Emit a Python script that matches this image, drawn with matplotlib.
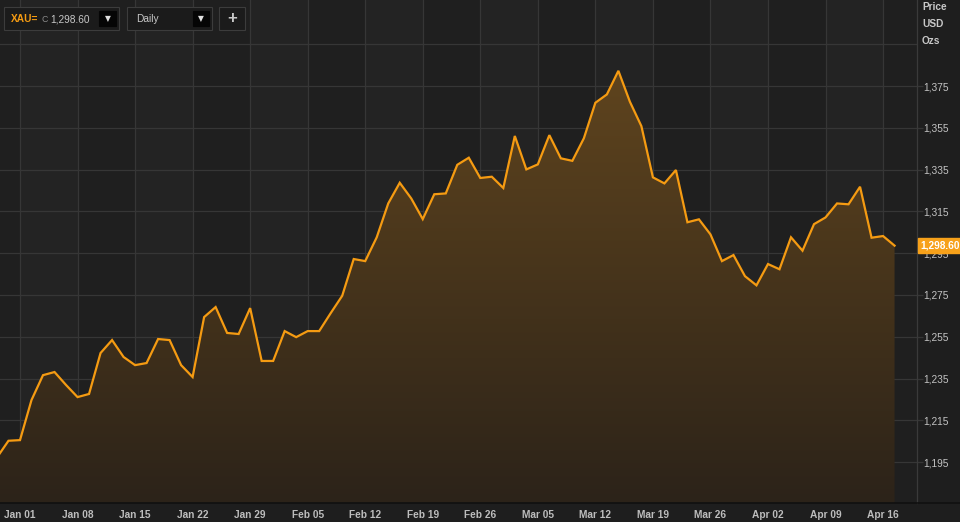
import numpy as np
import pandas as pd
import matplotlib
matplotlib.use("Agg")
import matplotlib.pyplot as plt
from matplotlib.patches import Rectangle

plt.rcParams['font.family'] = ['Liberation Sans', 'DejaVu Sans']

# ---- data ----
start_date = "2017-12-28"
end_date = "2018-04-17"
prices = [
    1197.2, 1205.2,
    1205.5, 1224.7, 1236.6, 1238.1, 1231.9,
    1226.1, 1227.6, 1247.2, 1253.4, 1245.3,
    1241.4, 1242.4, 1253.9, 1253.4, 1241.4,
    1235.7, 1264.4, 1269.2, 1256.8, 1256.3,
    1268.7, 1243.4, 1243.4, 1257.7, 1254.8,
    1257.7, 1257.7, 1266.3, 1274.6, 1292.2,
    1291.2, 1302.6, 1318.8, 1328.7, 1321.2,
    1311.3, 1323.2, 1323.6, 1337.3, 1340.7,
    1331.0, 1331.6, 1326.2, 1351.1, 1335.1,
    1337.5, 1351.5, 1340.4, 1339.2, 1350.0,
    1367.0, 1371.0, 1382.3, 1367.5, 1355.8,
    1331.3, 1328.4, 1334.8, 1309.8, 1311.2,
    1304.0, 1291.2, 1294.1, 1284.0, 1279.6,
    1289.8, 1287.3, 1302.6, 1296.2, 1308.9,
    1312.1, 1318.8, 1318.4, 1326.8, 1302.4,
    1303.2, 1298.6,
]
y_ticks = [1195, 1215, 1235, 1255, 1275, 1295, 1315, 1335, 1355, 1375]
y_grid = y_ticks + [1395]
last_label = "1,298.60"
header_labels = ["Price", "USD", "Ozs"]

dates = pd.bdate_range(start_date, end_date)
x = np.arange(len(dates))
y = np.array(prices)

W, H = 960, 522
fig = plt.figure(figsize=(W / 100, H / 100), dpi=100)
fig.patch.set_facecolor("#1e1e1e")

ax_l, ax_r, ax_b, ax_t = 0, 917, 503, 0
ax = fig.add_axes([ax_l / W, (H - ax_b) / H, (ax_r - ax_l) / W, (ax_b - ax_t) / H])
ax.set_facecolor("#1f1f1f")

xmin, xmax = 0.262, 79.95
ymin, ymax = 1175.4, 1416.2
ax.set_xlim(xmin, xmax)
ax.set_ylim(ymin, ymax)

# weekly ticks (Mondays)
mondays = [i for i, d in enumerate(dates) if d.weekday() == 0]
tick_labels = [dates[i].strftime("%b %d") for i in mondays]

# alternating column bands
edges = [xmin] + mondays + [xmax]
for k in range(len(edges) - 1):
    if k % 2 == 1:
        ax.axvspan(edges[k], edges[k + 1], color="#232323", zorder=0, lw=0)

# grid
for v in y_grid:
    ax.axhline(v, color="#363636", lw=0.9, zorder=1)
for m in mondays:
    ax.axvline(m, color="#363636", lw=0.9, zorder=1)

# gradient fill under line
grad = np.linspace(0, 1, 256).reshape(-1, 1)
top = np.array([0x62, 0x46, 0x1e]) / 255
bot = np.array([0x2c, 0x23, 0x19]) / 255
img = bot + (top - bot) * grad
img = np.repeat(img[:, None, :], 2, axis=1)
im = ax.imshow(img, extent=[xmin, xmax, ymin, 1395], origin="lower",
               aspect="auto", zorder=2, interpolation="bilinear")
poly = np.vstack([np.column_stack([x, y]), [[x[-1], ymin], [x[0], ymin]]])
clip = matplotlib.patches.Polygon(poly, closed=True, transform=ax.transData,
                                  facecolor="none", edgecolor="none")
ax.add_patch(clip)
im.set_clip_path(clip)

ax.plot(x, y, color="#f59b12", lw=1.6, zorder=4, solid_joinstyle="miter")

ax.set_xticks(mondays)
ax.set_xticklabels(tick_labels)
ax.tick_params(axis="x", length=0, pad=5, labelsize=7.3, labelcolor="#bdbdbd")
for t in ax.get_xticklabels():
    t.set_fontweight("bold")
ax.yaxis.tick_right()
ax.set_yticks(y_ticks)
ax.set_yticklabels([f"{v:,}" for v in y_ticks])
ax.tick_params(axis="y", length=4, width=0.9, color="#363636", pad=0.5,
               labelsize=7.3, labelcolor="#c4c4c4")
for s in ["top", "left", "bottom"]:
    ax.spines[s].set_visible(False)
ax.spines["right"].set_color("#3a3a3a")
ax.spines["right"].set_linewidth(0.9)

# bottom separator line
fig.add_artist(plt.Line2D([0, 1], [(H - 503) / H] * 2, color="#101010", lw=1.2,
                          transform=fig.transFigure))

# last price tag
yl = y[-1]
ax.annotate(last_label, xy=(1.0, yl), xycoords=("axes fraction", "data"),
            xytext=(2.5, 0), textcoords="offset points", ha="left", va="center",
            fontsize=7.3, fontweight="bold", color="white",
            bbox=dict(boxstyle="square,pad=0.28", fc="#f7a11a", ec="#f7a11a"),
            zorder=10, annotation_clip=False)

# header labels on the right
for k, lab in enumerate(header_labels):
    fig.text(922 / W, 1 - (7 + 17 * k) / H, lab, ha="left", va="center",
             fontsize=7.3, fontweight="bold", color="#c8c8c8")

# top-left controls
def px_box(x0, y0, w, h, fc, ec):
    r = Rectangle((x0 / W, 1 - (y0 + h) / H), w / W, h / H, transform=fig.transFigure,
                  facecolor=fc, edgecolor=ec, lw=0.8, zorder=20)
    fig.add_artist(r)

px_box(4, 7, 115, 23, "#1b1b1b", "#3c3c3c")
px_box(127, 7, 85, 23, "#1b1b1b", "#3c3c3c")
px_box(219, 7, 26, 23, "#1b1b1b", "#3c3c3c")
px_box(99, 11, 17, 15, "#050505", "#050505")
px_box(193, 11, 16, 15, "#050505", "#050505")
cy = 1 - 19 / H
fig.text(11 / W, cy, "XAU=", ha="left", va="center", fontsize=7.3,
         fontweight="bold", color="#f59b12", zorder=21)
fig.text(41 / W, cy, "C", ha="left", va="center", fontsize=6.3,
         color="#8a8a8a", zorder=21)
fig.text(50 / W, cy, "1,298.60", ha="left", va="center", fontsize=7.3,
         color="#c8c8c8", zorder=21)
fig.text(107.5 / W, cy, "▼", ha="center", va="center", fontsize=5.5,
         color="#e0e0e0", zorder=21, family="DejaVu Sans")
fig.text(136 / W, cy, "Daily", ha="left", va="center", fontsize=7.3,
         color="#c8c8c8", zorder=21)
fig.text(201 / W, cy, "▼", ha="center", va="center", fontsize=5.5,
         color="#e0e0e0", zorder=21, family="DejaVu Sans")
fig.text(232 / W, cy, "+", ha="center", va="center", fontsize=12,
         fontweight="bold", color="#c8c8c8", zorder=21)

fig.savefig("out.png", dpi=100, facecolor=fig.get_facecolor())
